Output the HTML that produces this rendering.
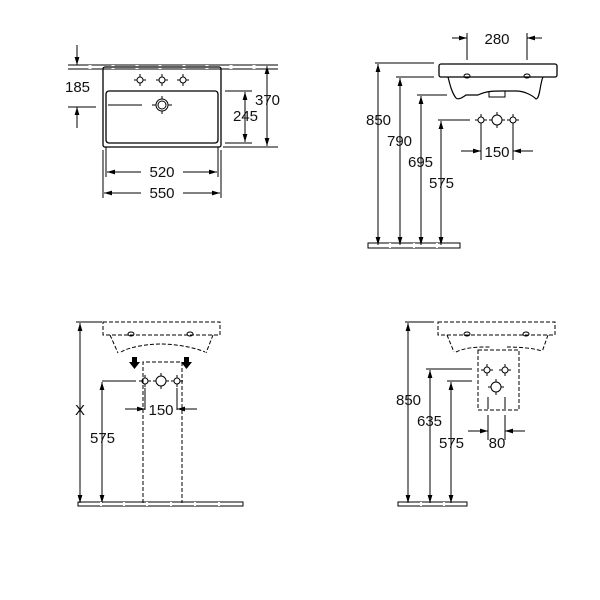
<!DOCTYPE html>
<html><head><meta charset="utf-8"><style>
html,body{margin:0;padding:0;background:#fff}
svg{display:block}
text{font-family:"Liberation Sans",Arial,sans-serif;font-size:15px;fill:#111}
</style></head><body>
<svg width="600" height="600" viewBox="0 0 600 600" xmlns="http://www.w3.org/2000/svg">
<defs>
<marker id="a" viewBox="0 0 10 10" refX="10" refY="5" markerWidth="8" markerHeight="8" orient="auto-start-reverse" markerUnits="userSpaceOnUse"><path d="M0,2 L10,5 L0,8 z" fill="#000"/></marker>
<g id="hole"><circle r="3" fill="none" stroke="#000" stroke-width="1"/><path d="M-6,0h3M3,0h3M0,-6v3M0,3v3" stroke="#000" stroke-width="1"/></g>
<g id="bighole"><circle r="5" fill="none" stroke="#000" stroke-width="1"/><path d="M-8,0h3M5,0h3M0,-8v3M0,5v3" stroke="#000" stroke-width="1"/></g>
</defs>
<g stroke="#000" stroke-width="1" fill="none">
<!-- ===== Top-left ===== -->
<path d="M68,65h210M68,69h210"/>
<path d="M90,65v4M113,65v4M137,65v4M160,65v4M184,65v4M207,65v4M231,65v4M254,65v4" stroke="#fff" stroke-width="3"/>
<rect x="103" y="67" width="118" height="80" rx="2" stroke-width="1.3"/>
<rect x="106" y="91" width="112" height="52" rx="3" stroke-width="1.3"/>
<path d="M108,105h34M152,105h4M168,105h4"/>
<circle cx="162" cy="105" r="6"/><circle cx="162" cy="105" r="4"/>
<path d="M162,96v3M162,111v3"/>
<path d="M77,45v20" marker-end="url(#a)"/>
<path d="M77,128v-21" marker-end="url(#a)"/>
<path d="M68,107h28"/>
<path d="M225,91h27M225,143h27M223,147h55"/>
<path d="M245,92v50" marker-start="url(#a)" marker-end="url(#a)"/>
<path d="M267,66v80" marker-start="url(#a)" marker-end="url(#a)"/>
<path d="M106,147v30M218,147v30M103,150v48M221,150v48"/>
<path d="M107,172h51M166,172h51"/>
<path d="M104,193h54M166,193h54"/>
<path d="M122,172h-15" marker-end="url(#a)"/>
<path d="M202,172h15" marker-end="url(#a)"/>
<path d="M119,193h-15" marker-end="url(#a)"/>
<path d="M205,193h15" marker-end="url(#a)"/>
<!-- ===== Top-right ===== -->
<path d="M467,33v27M527,33v27"/>
<path d="M452,38h15" marker-end="url(#a)"/>
<path d="M542,38h-15" marker-end="url(#a)"/>
<rect x="439" y="64" width="118" height="13" rx="2" stroke-width="1.3"/>
<ellipse cx="467" cy="76" rx="3" ry="2"/><ellipse cx="527" cy="76" rx="3" ry="2"/>
<path d="M448,77c2,8 4,16 8,21c2,2 6,0 10,-3h12c8,-4 16,-4 24,-4h14c8,0 16,4 20,8c4,0 4,-16 7,-22" stroke-width="1.2"/>
<path d="M489,91v6h16v-6"/>
<path d="M375,63h59M396,77h38M417,95h30M438,120h32"/>
<path d="M378,64v181" marker-start="url(#a)" marker-end="url(#a)"/>
<path d="M400,78v167" marker-start="url(#a)" marker-end="url(#a)"/>
<path d="M421,96v149" marker-start="url(#a)" marker-end="url(#a)"/>
<path d="M441,121v124" marker-start="url(#a)" marker-end="url(#a)"/>
<path d="M368,243h92v5h-92z"/>
<path d="M390,243v5M414,243v5M437,243v5" stroke="#fff" stroke-width="2"/>
<path d="M481,126v34M513,126v34"/>
<path d="M461,151h20" marker-end="url(#a)"/>
<path d="M533,151h-20" marker-end="url(#a)"/>
<!-- ===== Bottom-left ===== -->
<path d="M76,322h26"/>
<path d="M80,323v180" marker-start="url(#a)" marker-end="url(#a)"/>
<g stroke-dasharray="4,2">
<path d="M103,322h117v13h-117z"/>
<path d="M110,335l8,18M213,335l-7,18M121,352c10,-6 30,-8 40,-8c10,0 30,2 44,8"/>
<path d="M143,503v-141h39v141"/>
</g>
<ellipse cx="131" cy="334" rx="3" ry="2"/><ellipse cx="190" cy="334" rx="3" ry="2"/>
<path d="M102,381h34"/>
<path d="M102,382v121" marker-start="url(#a)" marker-end="url(#a)"/>
<path d="M145,388v22M177,388v22"/>
<path d="M125,409h20" marker-end="url(#a)"/>
<path d="M197,409h-20" marker-end="url(#a)"/>
<path d="M78,502h165v4h-165z"/>
<path d="M101,502v4M124,502v4M147,502v4M171,502v4M195,502v4M219,502v4" stroke="#fff" stroke-width="2"/>
<!-- ===== Bottom-right ===== -->
<path d="M405,322h29"/>
<path d="M408,323v180" marker-start="url(#a)" marker-end="url(#a)"/>
<g stroke-dasharray="4,2">
<path d="M438,322h117v13h-117z"/>
<path d="M447,335l7,17M548,335l-6,17M456,352c10,-5 24,-5 34,-5M507,347c12,0 26,1 35,4"/>
<path d="M478,350h41v60h-41z"/>
</g>
<path d="M488,397v12M505,397v12"/>
<ellipse cx="467" cy="334" rx="3" ry="2"/><ellipse cx="526" cy="334" rx="3" ry="2"/>
<path d="M426,369h46M447,381h25"/>
<path d="M430,370v133" marker-start="url(#a)" marker-end="url(#a)"/>
<path d="M451,382v121" marker-start="url(#a)" marker-end="url(#a)"/>
<path d="M488,415v25M505,415v25"/>
<path d="M468,431h20" marker-end="url(#a)"/>
<path d="M525,431h-20" marker-end="url(#a)"/>
<path d="M398,502h69v4h-69z"/>
<path d="M421,502v4M444,502v4" stroke="#fff" stroke-width="2"/>
</g>
<g fill="#000">
<path d="M132,357h5v5h3l-5.5,7l-5.5,-7h3z"/>
<path d="M184,357h5v5h3l-5.5,7l-5.5,-7h3z"/>
</g>
<use href="#hole" x="140" y="80"/><use href="#hole" x="162" y="80"/><use href="#hole" x="183" y="80"/>
<use href="#hole" x="481" y="120"/><use href="#bighole" x="497" y="120"/><use href="#hole" x="513" y="120"/>
<use href="#hole" x="145" y="381"/><use href="#bighole" x="161" y="381"/><use href="#hole" x="177" y="381"/>
<use href="#hole" x="487" y="370"/><use href="#hole" x="505" y="370"/><use href="#bighole" x="496" y="387"/>
<g>
<rect x="141" y="163" width="42" height="18" fill="#fff"/>
<rect x="141" y="184" width="42" height="18" fill="#fff"/>
<rect x="482" y="30" width="30" height="16" fill="#fff"/>
<text x="65" y="92">185</text>
<text x="255" y="105">370</text>
<text x="233" y="121">245</text>
<text x="162" y="177" text-anchor="middle">520</text>
<text x="162" y="198" text-anchor="middle">550</text>
<text x="497" y="44" text-anchor="middle">280</text>
<text x="366" y="125">850</text>
<text x="387" y="146">790</text>
<text x="408" y="167">695</text>
<text x="429" y="188">575</text>
<text x="497" y="157" text-anchor="middle">150</text>
<text x="75" y="415">X</text>
<text x="90" y="443">575</text>
<text x="161" y="415" text-anchor="middle">150</text>
<text x="396" y="405">850</text>
<text x="417" y="426">635</text>
<text x="439" y="448">575</text>
<text x="497" y="448" text-anchor="middle">80</text>
</g>
</svg>
</body></html>
